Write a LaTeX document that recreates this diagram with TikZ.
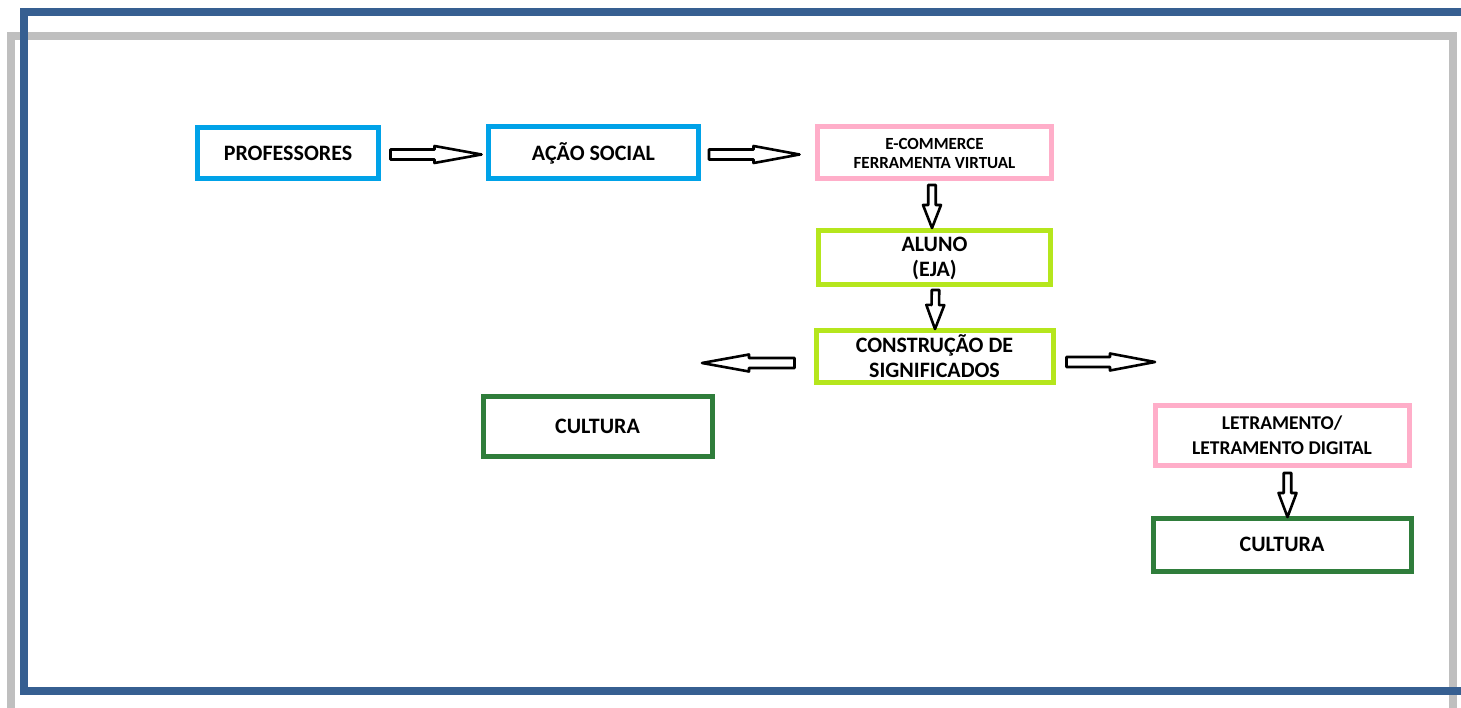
\documentclass[tikz,border=0pt]{standalone}
\usepackage{fontspec}
\setmainfont{Carlito}
\usetikzlibrary{positioning,calc}
\definecolor{FrameBlue}{HTML}{365F91}
\definecolor{FrameGray}{HTML}{BFBFBF}
\definecolor{SkyBlue}{HTML}{00A2E8}
\definecolor{PinkSoft}{HTML}{FFAEC9}
\definecolor{LimeGreen}{HTML}{B5E61D}
\definecolor{ForestGreen}{HTML}{2F7D3B}

% hollow block arrow: start, end, shaft half width, head half width, head length
\newcommand{\blockarrow}[5]{%
  \coordinate (hb) at ($(#2)!#5!(#1)$);
  \draw[hollow] ($(#1)!#3!90:(#2)$) -- ($(hb)!#3!90:(#2)$) -- ($(hb)!#4!90:(#2)$)
    -- (#2) -- ($(hb)!#4!-90:(#2)$) -- ($(hb)!#3!-90:(#2)$) -- ($(#1)!#3!-90:(#2)$) -- cycle;}

\begin{document}
\begin{tikzpicture}[x=1pt, y=-1pt,
    box/.style={draw, rectangle, line width=5pt, outer sep=0pt, inner sep=2pt, align=center,
      font=\bfseries\fontsize{22}{25}\selectfont},
    hollow/.style={draw=black, fill=white, line width=2.6pt, line join=round}]
  \clip (0,0) rectangle (1461,708);
  % Frames
  \draw[FrameGray, line width=8pt] (11,36.5) rectangle (1452.7,740);
  \draw[FrameBlue, line width=8pt] (24,12.5) rectangle (1490,690.5);

  % Nodes
  \node[box, draw=SkyBlue, minimum width=181pt, minimum height=51pt] (prof) at (288,153) {PROFESSORES};
  \node[box, draw=SkyBlue, minimum width=210pt, minimum height=52pt, right=110pt of prof] (acao) {AÇÃO SOCIAL};
  \node[box, draw=PinkSoft, minimum width=234pt, minimum height=52pt, right=119pt of acao,
    font=\bfseries\fontsize{17}{19}\selectfont] (ecom) {E-COMMERCE\\FERRAMENTA VIRTUAL};
  \node[box, draw=LimeGreen, minimum width=232pt, minimum height=54pt, below=52pt of ecom] (aluno) {ALUNO\\(EJA)};
  \node[box, draw=LimeGreen, minimum width=237pt, minimum height=51pt, below=46pt of aluno] (constr) {CONSTRUÇÃO DE\\SIGNIFICADOS};
  \node[box, draw=ForestGreen, minimum width=229pt, minimum height=60pt, below left=14pt and 104pt of constr] (cultleft) {CULTURA};
  \node[box, draw=PinkSoft, minimum width=254pt, minimum height=60pt, below right=23pt and 102pt of constr,
    font=\bfseries\fontsize{19.5}{25}\selectfont] (letra) {LETRAMENTO/\\LETRAMENTO DIGITAL};
  \node[box, draw=ForestGreen, minimum width=258pt, minimum height=53pt, below=53pt of letra] (cultright) {CULTURA};

  % Arrow ends
  \coordinate (a1s) at ($(prof.east)+(12,1.5)$);
  \coordinate (a1e) at ($(acao.west)+(-7,1.5)$);
  \coordinate (a2s) at ($(acao.east)+(10.5,1.5)$);
  \coordinate (a2e) at ($(ecom.west)+(-18,1.5)$);
  \coordinate (a3s) at ($(ecom.south)+(-2.5,6)$);
  \coordinate (a3e) at ($(aluno.north)+(-2.5,-3)$);
  \coordinate (a4s) at ($(aluno.south)+(1,5)$);
  \coordinate (a4e) at ($(constr.north)+(0.5,-2)$);
  \coordinate (a5s) at ($(constr.west)+(-21.5,6.5)$);
  \coordinate (a5e) at ($(constr.west)+(-114,6.5)$);
  \coordinate (a6s) at ($(constr.east)+(13.5,5.5)$);
  \coordinate (a6e) at ($(constr.east)+(102,5.5)$);
  \coordinate (a7s) at ($(letra.south)+(5.5,8)$);
  \coordinate (a7e) at ($(cultright.north)+(5.5,-1)$);

  % Arrows
  \blockarrow{a1s}{a1e}{5pt}{8.5pt}{47pt}
  \blockarrow{a2s}{a2e}{5pt}{8.5pt}{46pt}
  \blockarrow{a3s}{a3e}{3.75pt}{9pt}{23pt}
  \blockarrow{a4s}{a4e}{3.75pt}{9pt}{24pt}
  \blockarrow{a5s}{a5e}{5pt}{8.5pt}{47pt}
  \blockarrow{a6s}{a6e}{5pt}{8.5pt}{45pt}
  \blockarrow{a7s}{a7e}{3.75pt}{9pt}{24pt}
\end{tikzpicture}
\end{document}
